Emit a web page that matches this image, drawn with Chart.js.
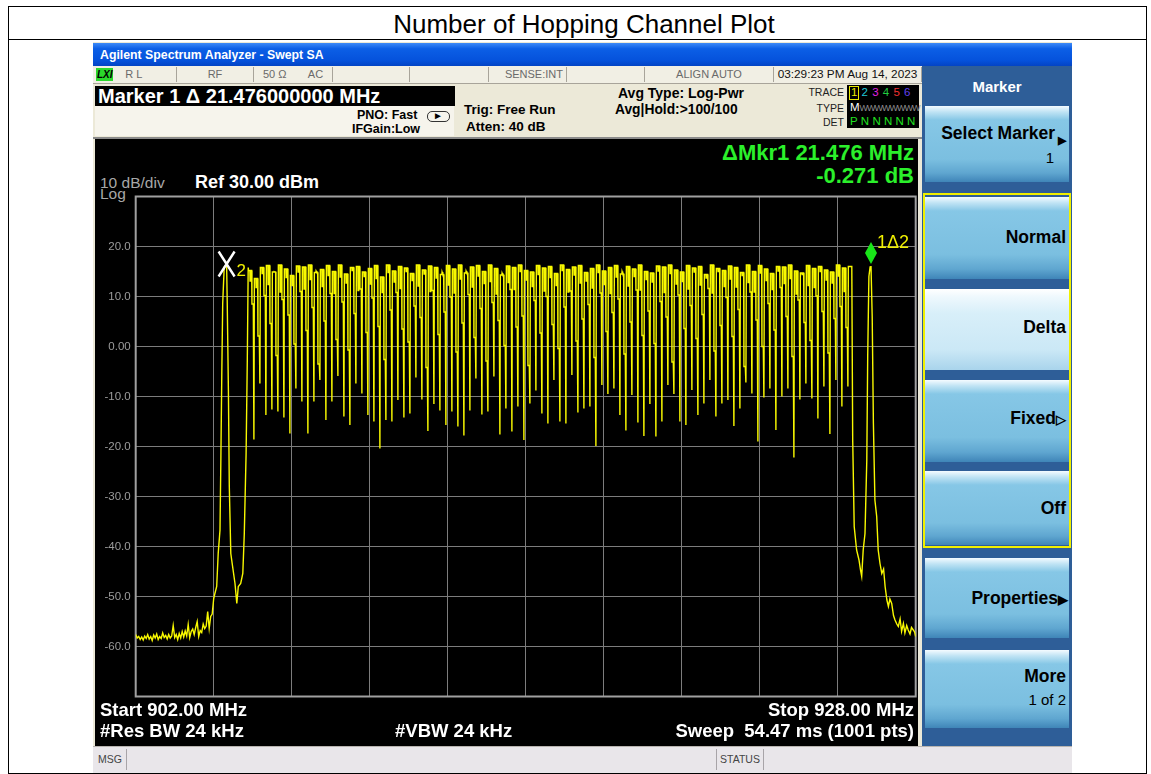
<!DOCTYPE html>
<html>
<head>
<meta charset="utf-8">
<title>Number of Hopping Channel Plot</title>
<script src="https://cdn.jsdelivr.net/npm/chart.js@4.4.0/dist/chart.umd.min.js"></script>
<style>
  body { margin: 0; width: 1151px; height: 774px; background: #fff; position: relative; overflow: hidden;
         font-family: "Liberation Sans", Arial, sans-serif; }
  .a { position: absolute; }
  .t { position: absolute; white-space: nowrap; }
  .b { font-weight: bold; }
  .cell { position: absolute; top: 67px; height: 15px; border-right: 1px solid #a8a49a; color: #6a6a6a;
          font-size: 11px; line-height: 15px; text-align: center; }
  .key { position: absolute; left: 925px; width: 144px; color: #000; font-weight: bold; font-size: 17.5px;
         background: linear-gradient(#f4fbff 0px, #bfe3f4 6px, #86c7e6 14px, #7bbfe0 70%, #5fa6d0 88%, #3f85b8 100%); }
  .key span { position: absolute; right: 3px; white-space: nowrap; }
</style>
</head>
<body>

<!-- report table -->
<div class="a" style="left:8px;top:6px;width:1137px;height:766px;border:1px solid #000;"></div>
<div class="a" style="left:8px;top:39px;width:1138px;height:1px;background:#000;"></div>
<div class="t" style="left:0;width:1168px;top:8px;height:32px;line-height:32px;text-align:center;font-size:26px;">Number of Hopping Channel Plot</div>

<!-- analyzer window -->
<div class="a" style="left:93px;top:42px;width:979px;height:730px;background:#ece9d8;"></div>
<div class="a" style="left:93px;top:43px;width:979px;height:23px;background:linear-gradient(#3d8af7,#0c5fe6 25%,#0552dc 75%,#0344c4);"></div>
<div class="t b" style="left:100px;top:48px;font-size:12.3px;color:#fff;line-height:15px;">Agilent Spectrum Analyzer - Swept SA</div>

<!-- status row -->
<div class="a" style="left:93px;top:66px;width:829px;height:17px;background:#f1efe4;border-bottom:1px solid #a8a49a;"></div>
<div class="a" style="left:96px;top:68px;width:17px;height:13px;background:#2bd82b;"></div>
<div class="t b" style="left:97px;top:67px;font-size:10px;line-height:15px;font-style:italic;color:#000;">LXI</div>
<div class="cell" style="left:113px;width:63px;text-align:left;">&nbsp;&nbsp;&nbsp;&nbsp;R L</div>
<div class="cell" style="left:177px;width:76px;">RF</div>
<div class="cell" style="left:254px;width:78px;">50 Ω &nbsp;&nbsp;&nbsp;&nbsp;&nbsp;&nbsp;AC</div>
<div class="cell" style="left:333px;width:76px;"></div>
<div class="cell" style="left:410px;width:78px;"></div>
<div class="cell" style="left:489px;width:77px;text-align:right;">SENSE:INT&nbsp;</div>
<div class="cell" style="left:567px;width:77px;"></div>
<div class="cell" style="left:645px;width:128px;">ALIGN AUTO</div>
<div class="cell" style="left:774px;width:147px;color:#111;font-size:11.8px;">03:29:23 PM Aug 14, 2023</div>

<!-- marker readout and settings -->
<div class="a" style="left:95px;top:106px;width:359px;height:30px;background:#f6f4ec;"></div>
<div class="a" style="left:95px;top:86px;width:360px;height:20px;background:#000;"></div>
<div class="t b" style="left:98px;top:85px;font-size:20px;line-height:22px;color:#fff;">Marker 1 Δ 21.476000000 MHz</div>
<div class="t b" style="left:357px;top:108px;font-size:12.5px;line-height:14px;">PNO: Fast</div>
<div class="t b" style="left:352px;top:122px;font-size:12.5px;line-height:14px;">IFGain:Low</div>
<div class="a" style="left:427px;top:111px;width:21px;height:9px;border:1px solid #333;border-radius:5px;"></div>
<div class="t" style="left:433px;top:109px;font-size:10px;line-height:14px;">&#9658;</div>
<div class="t b" style="left:464px;top:102px;font-size:13.5px;line-height:15px;">Trig: Free Run</div>
<div class="t b" style="left:466px;top:119px;font-size:13.5px;line-height:15px;">Atten: 40 dB</div>
<div class="t b" style="left:618px;top:86px;font-size:14px;line-height:15px;">Avg Type: Log-Pwr</div>
<div class="t b" style="left:615px;top:102px;font-size:13.8px;line-height:15px;">Avg|Hold:&gt;100/100</div>

<div class="t" style="left:800px;top:85px;width:44px;text-align:right;font-size:10.5px;line-height:14px;color:#222;">TRACE</div>
<div class="t" style="left:800px;top:101px;width:44px;text-align:right;font-size:10.5px;line-height:14px;color:#222;">TYPE</div>
<div class="t" style="left:800px;top:115px;width:44px;text-align:right;font-size:10.5px;line-height:14px;color:#222;">DET</div>
<div class="a" style="left:847px;top:85px;width:72px;height:43px;background:#000;"></div>
<div class="a" style="left:849px;top:86px;width:8px;height:12px;border:1px solid #e8e800;"></div>
<div class="t" style="left:851px;top:85px;font-size:11.5px;line-height:14px;letter-spacing:4.2px;"><span style="color:#e8e800">1</span><span style="color:#20c8d8">2</span><span style="color:#e020e0">3</span><span style="color:#20d040">4</span><span style="color:#f03030">5</span><span style="color:#6040f0">6</span></div>
<div class="t" style="left:850px;top:100px;font-size:11.5px;line-height:14px;color:#fff;">M<span style="color:#8a8a8a;font-size:9px;letter-spacing:-1px;">WWWWWWWW</span></div>
<div class="t" style="left:850px;top:114px;font-size:11.5px;line-height:14px;letter-spacing:3.2px;color:#20e020;">PNNNNN</div>

<!-- display -->
<div class="a" style="left:93px;top:137px;width:829px;height:2px;background:#8a8a8a;"></div>
<div class="a" style="left:95px;top:139px;width:823px;height:607px;background:#000;"></div>
<div class="t b" style="left:560px;width:354px;top:141px;text-align:right;font-size:22px;line-height:24px;color:#2bf02b;">ΔMkr1 21.476 MHz</div>
<div class="t b" style="left:560px;width:354px;top:164px;text-align:right;font-size:22px;line-height:24px;color:#2bf02b;">-0.271 dB</div>
<div class="t" style="left:100px;top:174px;font-size:15.5px;line-height:17px;color:#a8a8a8;">10 dB/div</div>
<div class="t" style="left:100px;top:187px;font-size:15.5px;line-height:13px;color:#a8a8a8;">Log</div>
<div class="t b" style="left:195px;top:172px;font-size:18px;line-height:20px;color:#fff;">Ref 30.00 dBm</div>

<div class="a" style="left:95px;top:190px;width:825px;height:512px;">
  <canvas id="traceChart" width="825" height="512"></canvas>
</div>

<div class="t b" style="left:100px;top:700px;font-size:18.5px;line-height:20px;color:#fff;">Start 902.00 MHz</div>
<div class="t b" style="left:100px;top:721px;font-size:18.5px;line-height:20px;color:#fff;">#Res BW 24 kHz</div>
<div class="t b" style="left:395px;top:721px;font-size:18.5px;line-height:20px;color:#fff;">#VBW 24 kHz</div>
<div class="t b" style="left:560px;width:354px;top:700px;text-align:right;font-size:18.5px;line-height:20px;color:#fff;">Stop 928.00 MHz</div>
<div class="t b" style="left:560px;width:354px;top:721px;text-align:right;font-size:18.5px;line-height:20px;color:#fff;">Sweep &nbsp;54.47 ms (1001 pts)</div>

<!-- softkeys -->
<div class="a" style="left:922px;top:66px;width:150px;height:681px;background:#2e5e98;"></div>
<div class="t b" style="left:922px;width:150px;top:78px;text-align:center;font-size:15px;line-height:18px;color:#fff;">Marker</div>
<div class="key" style="top:106px;height:76px;"><span style="top:17px;right:14px;">Select Marker</span><span style="top:28px;right:3px;font-size:11px;">&#9654;</span><span style="top:43px;right:15px;font-weight:normal;font-size:15px;">1</span></div>
<div class="a" style="left:923px;top:193px;width:144px;height:351px;border:2px solid #f0f000;"></div>
<div class="key" style="top:197px;height:82px;"><span style="top:30px;">Normal</span></div>
<div class="key" style="top:289px;height:81px;background:linear-gradient(#ffffff 0px,#eef8fd 8px,#d8eff9 30%,#cbe8f6 75%,#a9d4ec 100%);"><span style="top:28px;">Delta</span></div>
<div class="key" style="top:380px;height:82px;"><span style="top:28px;">Fixed<span style="position:static;font-size:13px;">&#9655;</span></span></div>
<div class="key" style="top:471px;height:74px;"><span style="top:27px;">Off</span></div>
<div class="key" style="top:558px;height:80px;"><span style="top:30px;right:1px;">Properties<span style="position:static;font-size:13px;">&#9654;</span></span></div>
<div class="key" style="top:650px;height:78px;"><span style="top:16px;">More</span><span style="top:41px;font-weight:normal;font-size:15px;">1 of 2</span></div>

<!-- message bar -->
<div class="a" style="left:93px;top:746px;width:979px;height:26px;background:#e9e6ea;border-top:1px solid #b8b4b0;"></div>
<div class="a" style="left:95px;top:749px;width:31px;height:21px;border-right:1px solid #a8a4a8;font-size:10.5px;line-height:21px;color:#444;">&nbsp;MSG</div>
<div class="a" style="left:716px;top:749px;width:46px;height:21px;border-left:1px solid #a8a4a8;border-right:1px solid #a8a4a8;font-size:10.5px;line-height:21px;color:#444;text-align:center;">STATUS</div>

<script>
// sweep 902 - 928 MHz, 10 dB/div, Ref 30 dBm
const floorStartMHz = 902.0;
const floorStepMHz = 0.05;
const leftFloorDbm = [
  -57.6, -58.3, -58.0, -58.6, -58.1, -58.7, -57.9, -58.4, -57.6, -58.5,
  -58.0, -58.8, -57.7, -58.3, -57.5, -58.6, -58.0, -58.4, -57.3, -58.2,
  -57.8, -58.5, -57.6, -58.3, -57.9, -55.8, -58.2, -57.6, -58.6, -57.4,
  -58.3, -57.0, -58.1, -56.9, -57.9, -55.6, -58.2, -57.0, -56.5, -57.6,
  -56.2, -55.0, -58.0, -56.8, -57.2, -55.5, -56.4, -55.9, -53.0, -56.4,
  -54.0, -53.5
];

// first channel (marker 2) and gap before the main block
const leftEdgeMHz = [904.60, 904.64, 904.70, 904.75, 904.81, 904.84, 904.87, 904.90, 904.95, 905.03,
  905.05, 905.09, 905.12, 905.17, 905.23, 905.31, 905.37, 905.42, 905.50, 905.57,
  905.62, 905.68, 905.72, 905.75];
const leftEdgeDbm = [-50.4, -49.4, -48.0, -41.4, -36.7, -22.0, -5.4, 8.6, 15.9, 16.4,
  9.3, -8.7, -28.0, -41.4, -44.0, -47.4, -51.4, -48.0, -47.4, -45.4,
  -37.4, -21.4, -2.7, 15.8];

// hopping block: one notch every 0.2 MHz
const hopStartMHz = 905.94;
const hopStepMHz = 0.2;
const dipDbm = [
  -18.6, -7.4, -13.7, -12.6, -13.0, -14.2, -17.4, -8.4, -11.0, -17.4,
  -11.0, -6.7, -14.7, -11.0, -5.9, -14.0, -15.7, -7.4, -9.4, -13.7,
  -15.0, -20.4, -14.7, -15.0, -10.7, -14.2, -13.4, -6.2, -10.6, -16.9,
  -11.5, -12.8, -15.7, -13.0, -16.0, -17.8, -12.8, -6.4, -13.6, -13.0,
  -6.0, -17.6, -12.4, -17.0, -12.0, -18.7, -11.4, -8.8, -13.4, -15.4,
  -6.7, -15.0, -15.4, -5.7, -13.2, -12.4, -12.0, -19.9, -7.7, -9.5,
  -8.4, -13.7, -16.8, -9.7, -15.2, -17.9, -11.5, -18.0, -15.0, -7.7,
  -9.5, -15.0, -15.7, -8.7, -13.7, -11.4, -6.7, -14.0, -11.4, -10.7,
  -15.9, -12.4, -7.2, -9.4, -19.0, -10.2, -8.4, -16.7, -10.0, -8.4,
  -22.2, -10.6, -7.4, -10.4, -14.4, -8.0, -17.5, -6.7, -12.0, -8.0
];
const topDbm = [
  15.2, 13.6, 15.8, 16.2, 14.9, 16.3, 15.5, 14.2, 16.1, 15.9,
  16.3, 14.8, 15.4, 16.2, 15.0, 16.3, 14.5, 15.8, 16.0, 14.9,
  15.6, 16.2, 13.9, 16.3, 15.1, 16.0, 15.7, 14.6, 16.3, 15.3,
  16.1, 15.8, 14.4, 16.2, 15.5, 16.3, 14.7, 15.9, 16.2, 15.0,
  16.3, 15.6, 14.3, 16.1, 15.8, 16.3, 15.2, 14.9, 16.2, 15.7,
  16.0, 14.6, 16.3, 15.4, 15.9, 16.2, 14.8, 15.6, 16.3, 15.1,
  15.8, 16.2, 14.5, 16.0, 15.5, 16.3, 15.0, 14.7, 16.1, 15.9,
  16.3, 15.3, 14.9, 16.2, 15.7, 16.0, 14.4, 16.3, 15.6, 15.2,
  16.1, 15.8, 14.8, 16.3, 15.0, 16.2, 15.5, 14.6, 16.0, 15.9,
  16.3, 15.1, 14.7, 16.2, 15.6, 16.0, 15.3, 14.9, 16.3, 15.7,
  16.0
];
const midDbm = [
  13.1, 11.8, 14.6, 12.4, 15.0, 10.9, 13.8, 12.2, 14.9, 11.5,
  13.4, 15.1, 12.0, 14.2, 10.6, 13.9, 12.7, 15.2, 11.2, 14.0,
  12.5, 13.6, 10.8, 14.8, 12.9, 11.6, 15.0, 13.2, 12.1, 14.5,
  11.0, 13.7, 14.9, 12.3, 10.7, 13.5, 15.1, 11.9, 14.1, 12.6,
  13.0, 10.5, 14.7, 12.8, 11.4, 15.0, 13.3, 12.0, 14.4, 11.1,
  13.8, 12.2, 15.2, 10.9, 14.3, 12.7, 13.1, 11.7, 14.8, 12.4,
  10.6, 13.9, 15.0, 12.1, 14.0, 11.3, 13.4, 12.9, 15.1, 10.8,
  14.6, 12.5, 13.0, 11.5, 14.9, 12.3, 13.7, 10.7, 15.0, 12.0,
  13.5, 11.9, 14.2, 12.8, 10.9, 14.7, 13.2, 11.4, 15.1, 12.6,
  13.6, 10.5, 14.4, 12.2, 11.8, 15.0, 13.3, 12.7, 14.1, 11.0
];
const shoulderDbm = [
  8.5, 2.1, 10.2, 4.6, -1.8, 9.4, 6.3, 0.5, 11.0, 3.2,
  7.8, -3.5, 5.1, 10.6, 1.4, 8.9, -0.7, 6.6, 11.5, 2.8,
  9.7, 4.0, -2.6, 7.3, 10.8, 3.5, 0.9, 8.1, 5.8, -4.2,
  11.2, 2.4, 6.9, 9.9, -1.1, 4.7, 10.4, 1.8, 7.6, -2.9,
  8.8, 5.2, 0.2, 11.4, 3.9, 6.1, -3.8, 9.2, 2.7, 10.0,
  4.4, -0.4, 7.9, 11.1, 1.1, 5.5, 8.4, -2.2, 10.7, 3.0,
  6.8, 9.5, -1.5, 4.9, 11.3, 2.2, 7.1, 0.6, 9.0, 5.9,
  -3.1, 10.3, 3.6, 8.2, 1.6, 6.4, 11.6, -0.9, 4.2, 9.8,
  2.0, 7.4, -4.0, 10.9, 5.3, 0.0, 8.6, 3.3, 11.8, 6.0,
  -2.0, 9.3, 4.8, 1.2, 10.1, 7.0, -1.3, 5.6, 8.0, 3.8
];

// last channel (marker 1) and upper skirt
const rightEdgeMHz = [925.87, 925.90, 925.95, 926.03, 926.11, 926.16, 926.20, 926.25, 926.31, 926.37,
  926.40, 926.44, 926.48, 926.51, 926.55, 926.59, 926.64, 926.70, 926.75, 926.81,
  926.87, 926.93, 926.98, 927.04, 927.09, 927.14, 927.20, 927.26, 927.31, 927.37,
  927.42, 927.48, 927.53, 927.59, 927.64, 927.70, 927.75, 927.81, 927.86, 927.92,
  927.97, 928.00];
const rightEdgeDbm = [16.0, -18.7, -36.0, -40.7, -42.7, -44.7, -46.0, -40.7, -37.4, -22.7,
  -2.0, 14.0, 15.9, 16.1, 6.0, -15.4, -30.7, -34.0, -40.7, -43.4,
  -45.4, -44.5, -48.0, -50.7, -52.0, -50.5, -51.4, -53.8, -54.7, -55.5,
  -56.0, -54.5, -57.0, -55.4, -57.3, -55.8, -56.7, -57.5, -56.2, -56.7,
  -57.2, -58.0];

const xGridMHz = [902, 904.6, 907.2, 909.8, 912.4, 915, 917.6, 920.2, 922.8, 925.4, 928];
const yGridDbm = [30, 20, 10, 0, -10, -20, -30, -40, -50, -60, -70];
const yTickLabels = ["", "20.0", "10.0", "0.00", "-10.0", "-20.0", "-30.0", "-40.0", "-50.0", "-60.0", ""];

const mkr1 = { mhz: 926.51, dbm: 16.1 };
const mkr2 = { mhz: 905.03, dbm: 16.4 };

function buildTrace() {
    let pts = [];
    leftFloorDbm.forEach((v, i) => pts.push({ x: floorStartMHz + i * floorStepMHz, y: v }));
    leftEdgeMHz.forEach((f, i) => pts.push({ x: f, y: leftEdgeDbm[i] }));
    dipDbm.forEach((d, k) => {
        const f = hopStartMHz + k * hopStepMHz;
        pts.push({ x: f - 0.185, y: topDbm[k] });
        pts.push({ x: f - 0.135, y: topDbm[k] });
        pts.push({ x: f - 0.128, y: midDbm[k] });
        pts.push({ x: f - 0.108, y: midDbm[k] });
        pts.push({ x: f - 0.1, y: topDbm[k] });
        pts.push({ x: f - 0.075, y: topDbm[k] });
        pts.push({ x: f - 0.065, y: shoulderDbm[k] });
        pts.push({ x: f - 0.02, y: shoulderDbm[k] });
        pts.push({ x: f, y: d });
        pts.push({ x: f + 0.015, y: topDbm[k + 1] });
    });
    rightEdgeMHz.forEach((f, i) => pts.push({ x: f, y: rightEdgeDbm[i] }));
    return pts;
}

const frameAndMarkers = {
    id: "frameAndMarkers",
    beforeDatasetsDraw(chart) {
        const { ctx, chartArea } = chart;
        const ys = chart.scales.y;
        ctx.save();
        ctx.strokeStyle = "#a0a0a0";
        ctx.lineWidth = 2;
        ctx.strokeRect(chartArea.left, chartArea.top, chartArea.right - chartArea.left, chartArea.bottom - chartArea.top);
        // amplitude labels
        ctx.fillStyle = "#9c9c9c";
        ctx.font = "11.5px 'Liberation Sans'";
        ctx.textAlign = "right";
        ctx.textBaseline = "middle";
        yGridDbm.forEach((v, i) => ctx.fillText(yTickLabels[i], chartArea.left - 5, ys.getPixelForValue(v)));
        ctx.restore();
    },
    afterDatasetsDraw(chart) {
        const { ctx } = chart;
        const xs = chart.scales.x, ys = chart.scales.y;

        // marker 2: white X
        const x2 = xs.getPixelForValue(mkr2.mhz), y2 = ys.getPixelForValue(mkr2.dbm);
        ctx.save();
        ctx.strokeStyle = "#ffffff";
        ctx.lineWidth = 2.4;
        ctx.beginPath();
        ctx.moveTo(x2 - 8, y2 - 13); ctx.lineTo(x2 + 8, y2 + 12);
        ctx.moveTo(x2 + 8, y2 - 13); ctx.lineTo(x2 - 8, y2 + 12);
        ctx.stroke();
        ctx.fillStyle = "#f0f000";
        ctx.font = "17px 'Liberation Sans'";
        ctx.textBaseline = "alphabetic";
        ctx.fillText("2", x2 + 10, y2 + 11);

        // marker 1: green diamond
        const x1 = xs.getPixelForValue(mkr1.mhz), y1 = ys.getPixelForValue(mkr1.dbm);
        ctx.fillStyle = "#19e619";
        ctx.beginPath();
        ctx.moveTo(x1, y1 - 2);
        ctx.lineTo(x1 + 6, y1 - 13);
        ctx.lineTo(x1, y1 - 24);
        ctx.lineTo(x1 - 6, y1 - 13);
        ctx.closePath();
        ctx.fill();
        ctx.fillStyle = "#f0f000";
        ctx.font = "18px 'Liberation Sans'";
        ctx.fillText("1\u03942", x1 + 6, y1 - 18);
        ctx.restore();
    }
};

new Chart(document.getElementById("traceChart"), {
    type: "line",
    data: {
        datasets: [{
            data: buildTrace(),
            borderColor: "#f8f800",
            borderWidth: 1.4,
            pointRadius: 0,
            tension: 0,
            fill: false
        }]
    },
    options: {
        responsive: false,
        animation: false,
        parsing: false,
        layout: { padding: { left: 0, top: 6.5, right: 4.3, bottom: 5.5 } },
        plugins: { legend: { display: false }, tooltip: { enabled: false } },
        scales: {
            x: {
                type: "linear",
                min: 902,
                max: 928,
                afterBuildTicks: s => { s.ticks = xGridMHz.map(v => ({ value: v })); },
                afterFit: s => { s.height = 0; },
                ticks: { display: false },
                grid: { color: "#7c7c7c", lineWidth: 1, drawTicks: false },
                border: { display: false }
            },
            y: {
                min: -70,
                max: 30,
                afterBuildTicks: s => { s.ticks = yGridDbm.map(v => ({ value: v })); },
                afterFit: s => { s.width = 40.7; },
                ticks: { display: false },
                grid: { color: "#7c7c7c", lineWidth: 1, drawTicks: false },
                border: { display: false }
            }
        }
    },
    plugins: [frameAndMarkers]
});
</script>
</body>
</html>
